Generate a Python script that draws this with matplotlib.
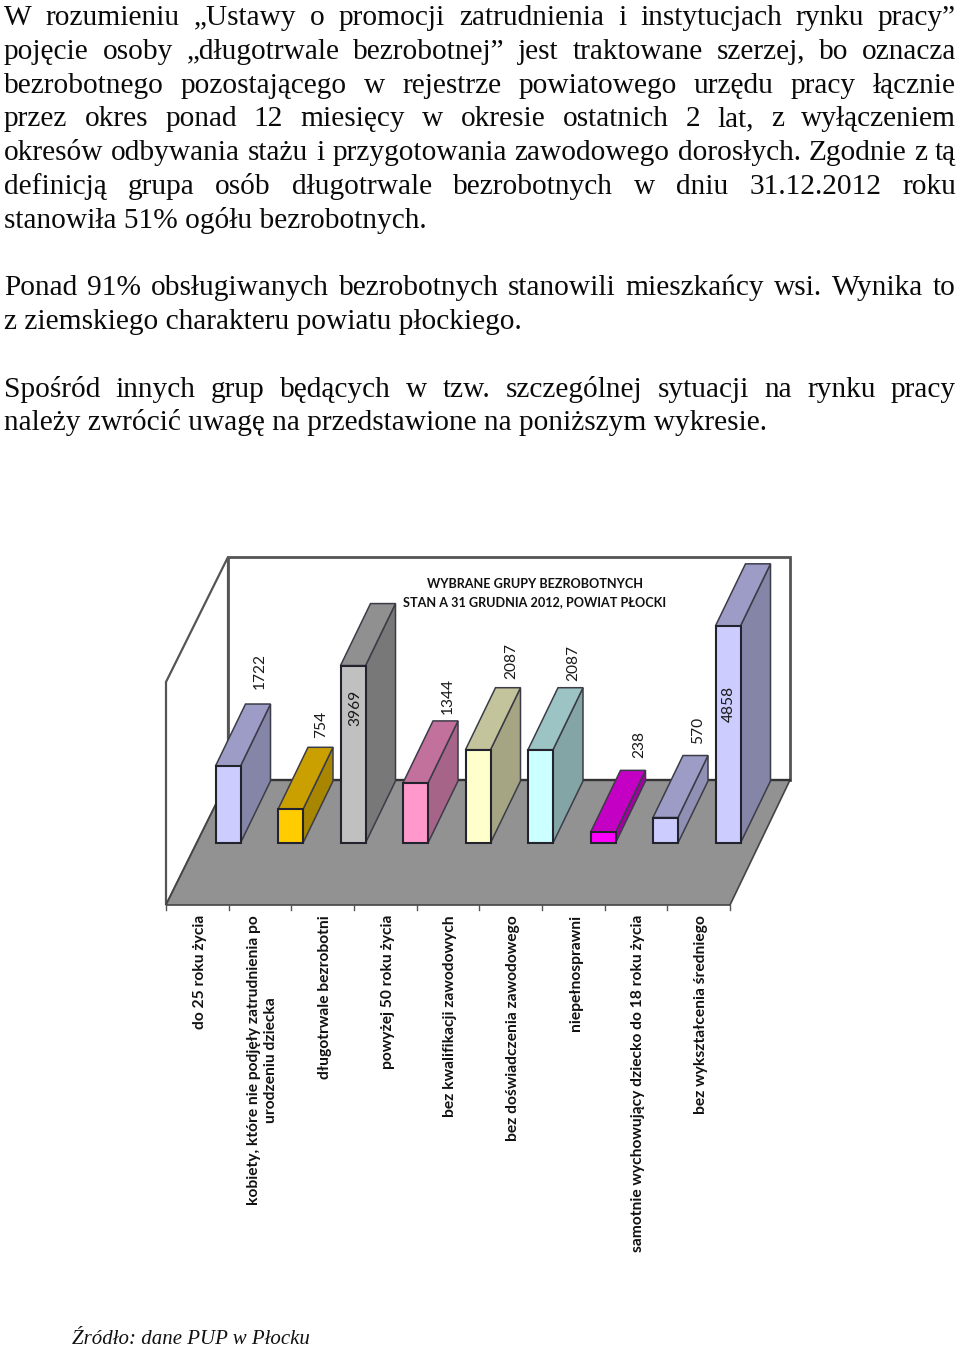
import matplotlib
matplotlib.use("Agg")
import matplotlib.pyplot as plt

W, H = 960, 1347

categories = ["do 25 roku życia",
              "kobiety, które nie podjęły zatrudnienia po\nurodzeniu dziecka",
              "długotrwale bezrobotni", "powyżej 50 roku życia",
              "bez kwalifikacji zawodowych", "bez doświadczenia zawodowego",
              "niepełnosprawni", "samotnie wychowujący dziecko do 18 roku życia",
              "bez wykształcenia średniego"]
values = [1722, 754, 3969, 1344, 2087, 2087, 238, 570, 4858]
title_lines = ["WYBRANE GRUPY BEZROBOTNYCH", "STAN A 31 GRUDNIA 2012, POWIAT PŁOCKI"]
source = "Źródło: dane PUP w Płocku"

justified = [
    ("W rozumieniu „Ustawy o promocji zatrudnienia i instytucjach rynku pracy”", True),
    ("pojęcie osoby „długotrwale bezrobotnej” jest traktowane szerzej, bo oznacza", True),
    ("bezrobotnego pozostającego w rejestrze powiatowego urzędu pracy łącznie", True),
    ("przez okres ponad 12 miesięcy w okresie ostatnich 2 lat, z wyłączeniem", True),
    ("okresów odbywania stażu i przygotowania zawodowego dorosłych. Zgodnie z tą", True),
    ("definicją grupa osób długotrwale bezrobotnych w dniu 31.12.2012 roku", True),
    ("stanowiła 51% ogółu bezrobotnych.", False),
    ("Ponad 91% obsługiwanych bezrobotnych stanowili mieszkańcy wsi. Wynika to", True),
    ("z ziemskiego charakteru powiatu płockiego.", False),
    ("Spośród innych grup będących w tzw. szczególnej sytuacji na rynku pracy", True),
    ("należy zwrócić uwagę na przedstawione na poniższym wykresie.", False),
]
baselines = [25, 59, 93, 126, 160, 194, 228, 295, 329, 397, 430]

# styles
front = ["#CCCCFF", "#FFCC00", "#C0C0C0", "#FF99CC", "#FFFFCC", "#CCFFFF", "#FF00FF", "#CCCCFF", "#CCCCFF"]
top = ["#9C9CC6", "#C9A000", "#909090", "#C2709C", "#C4C49C", "#9CC4C4", "#C400C4", "#9C9CC6", "#9C9CC6"]
side = ["#8585A8", "#A88600", "#787878", "#A56488", "#A5A584", "#84A5A5", "#A500A5", "#9090B4", "#8585A8"]
# label offset from the top of the front face (px), in reading direction
label_dx = [32, 31, 2, 32, 33, 33, 36, 33, 1]
label_dy = [-95, -85, 42, -87, -89, -87, -88, -87, 78]

fig = plt.figure(figsize=(W / 100, H / 100), dpi=100, facecolor="white")
PX = 62.5          # pixels per category
PV = 0.0447        # pixels per unit of value
X0, Y0 = 228, 843  # first bar centre, bar base
ax = fig.add_axes([0, 0, 1, 1])
ax.set_xlim(-X0 / PX, (W - X0) / PX)
ax.set_ylim((Y0 - H) / PV, Y0 / PV)
ax.axis("off")

def dx(px): return px / PX
def dv(px): return px / PV
def PT(px, py): return ((px - X0) / PX, (Y0 - py) / PV)

wall_c = "#555555"
# back wall, floor, side wall
ax.fill(*zip(PT(228, 557), PT(790, 557), PT(790, 780), PT(228, 780)), fc="white", ec=wall_c, lw=2.0, zorder=1)
ax.fill(*zip(PT(166, 682), PT(228, 557), PT(228, 780), PT(166, 905)), fc="white", ec=wall_c, lw=1.6, zorder=1)
ax.fill(*zip(PT(166, 905), PT(730, 905), PT(790, 780), PT(228, 780)), fc="#929292", ec="#444444", lw=1.2, zorder=2)
ax.plot(*zip(PT(228, 780), PT(790, 780)), color="#333333", lw=1.7, zorder=2.5)
for i in range(10):
    px = 166 + i * (730 - 166) / 9
    ax.plot(*zip(PT(px, 905), PT(px, 910)), color="#555555", lw=1.0, zorder=2)

# bars
BW = 0.4
ddx, ddv = dx(30), dv(62)
edge = "#23232e"
for i, v in enumerate(values):
    z = 3 + i
    l, r = i - BW / 2, i + BW / 2
    ax.fill([r, r + ddx, r + ddx, r], [0, ddv, v + ddv, v], fc=side[i], ec="#3c3c48", lw=1.1, zorder=z)
    ax.fill([l, r, r + ddx, l + ddx], [v, v, v + ddv, v + ddv], fc=top[i], ec="#3c3c48", lw=1.1, zorder=z)
    ax.bar(i, v, width=BW, color=front[i], edgecolor=edge, linewidth=1.5, zorder=z + 0.5)

def T(x, y, s, **kw):
    return fig.text(x / W, 1 - y / H, s, **kw)

sans = "Lato"
# value labels
for i, v in enumerate(values):
    px = X0 + i * PX + label_dx[i]
    py = Y0 - v * PV + label_dy[i]
    T(px, py, str(v), rotation=90, ha="center", va="center", fontsize=11.2, family=sans, color="#1a1a1a", zorder=30)

# title
T(535, 584.5, title_lines[0], ha="center", va="center", fontsize=9.1, family=sans, weight="bold", color="#111111")
T(534.5, 602.5, title_lines[1], ha="center", va="center", fontsize=9.1, family=sans, weight="bold", color="#111111")

# category labels
for i, c in enumerate(categories):
    T(200 + i * 62.6, 915, c, rotation=90, ha="center", va="top", multialignment="center",
      fontsize=11.25, family=sans, weight="bold", color="#111111", linespacing=1.3)

# justified body text
serif = "Liberation Serif"
FS = 21.2
renderer = fig.canvas.get_renderer()
L, R = 4, 956
def width(s):
    t = T(0, 0, s, fontsize=FS, family=serif)
    w = t.get_window_extent(renderer).width
    t.remove()
    return w
for (line, just), y in zip(justified, baselines):
    words = line.split(" ")
    if just:
        widths = [width(w) for w in words]
        gap = (R - L - sum(widths)) / (len(words) - 1)
        x = L
        for w, wd in zip(words, widths):
            T(x, y, w, fontsize=FS, family=serif, color="#0a0a0a", va="baseline")
            x += wd + gap
    else:
        T(L, y, line, fontsize=FS, family=serif, color="#0a0a0a", va="baseline")

T(72, 1344, source, fontsize=15.0, family=serif, style="italic", color="#111111", va="baseline")

fig.savefig("out.png", dpi=100, facecolor="white")
